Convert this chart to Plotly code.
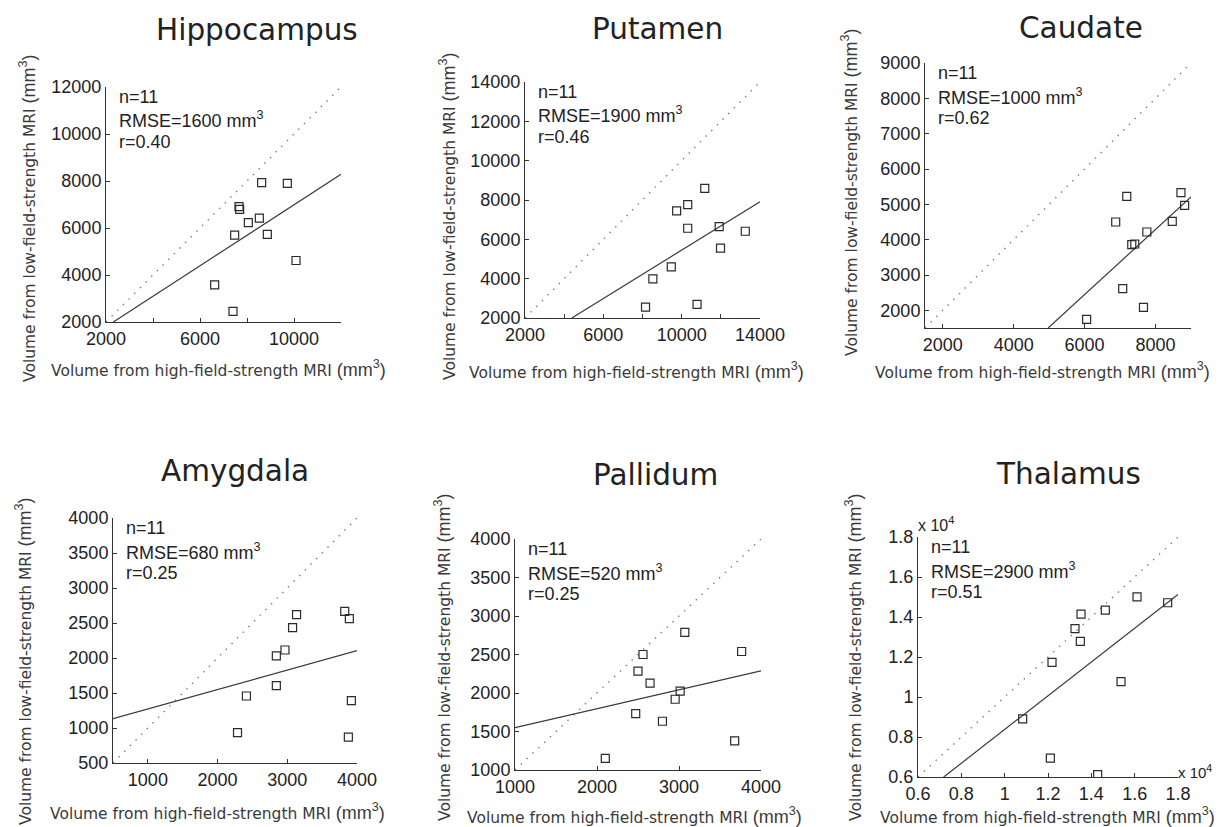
import plotly.graph_objects as go

# The page body adds an 8px margin, so the figure is drawn 8px in from the
# top-left corner of the 1225x827 window; geometry below is in window pixels.
OFF = 8
W, H = 1225 - OFF, 827 - OFF

# ---------------- data ----------------
region_names = ["Hippocampus", "Putamen", "Caudate", "Amygdala", "Pallidum", "Thalamus"]
n_vals = [11, 11, 11, 11, 11, 11]
rmse_vals = [1600, 1900, 1000, 680, 520, 2900]
r_vals = ["0.40", "0.46", "0.62", "0.25", "0.25", "0.51"]

hip_x = [8624, 9716, 7660, 7688, 8057, 8525, 7475, 8865, 10085, 6624, 7404]
hip_y = [7932, 7903, 6908, 6794, 6225, 6424, 5698, 5727, 4617, 3579, 2455]
hip_fit_x = [2312, 12000]
hip_fit_y = [2000, 8287]

put_x = [11179, 9744, 10308, 10308, 11915, 13248, 11983, 9470, 8530, 8154, 10786]
put_y = [8592, 7442, 7763, 6563, 6648, 6411, 5549, 4603, 3994, 2558, 2693]
put_fit_x = [4393, 14000]
put_fit_y = [2000, 7915]

cau_x = [7189, 8717, 8821, 6877, 8472, 7755, 7330, 7415, 7075, 7660, 6057]
cau_y = [5226, 5330, 4972, 4500, 4519, 4217, 3858, 3877, 2613, 2085, 1745]
cau_fit_x = [4972, 9000]
cau_fit_y = [1500, 5208]

amy_x = [3824, 3890, 3133, 3076, 2967, 2843, 2843, 2414, 3919, 2286, 3876]
amy_y = [2667, 2562, 2619, 2433, 2114, 2029, 1605, 1457, 1390, 933, 871]
amy_fit_x = [500, 4000]
amy_fit_y = [1133, 2105]

pal_x = [3071, 3764, 2561, 2500, 2647, 3014, 2953, 2472, 2798, 3679, 2101]
pal_y = [2787, 2539, 2500, 2284, 2128, 2024, 1919, 1733, 1633, 1377, 1152]
pal_fit_x = [1000, 4000]
pal_fit_y = [1551, 2288]

tha_x = [16108, 17523, 14646, 13523, 13246, 13492, 12185, 15369, 10831, 12108, 14292]
tha_y = [15011, 14712, 14346, 14146, 13415, 12783, 11736, 10771, 8909, 6948, 6116]
tha_fit_x = [7185, 18000]
tha_fit_y = [6000, 15127]

# axis ranges and ticks
x_ranges = [[2000, 12000], [2000, 14000], [1500, 9000], [500, 4000], [1000, 4000], [6000, 18000]]
y_ranges = [[2000, 12000], [2000, 14000], [1500, 9000], [500, 4000], [1000, 4000], [6000, 18000]]

x_tickvals = [
    [2000, 4000, 6000, 8000, 10000, 12000],
    [2000, 4000, 6000, 8000, 10000, 12000, 14000],
    [2000, 4000, 6000, 8000],
    [1000, 2000, 3000, 4000],
    [1000, 2000, 3000, 4000],
    [6000, 8000, 10000, 12000, 14000, 16000, 18000],
]
x_ticktext = [
    ["2000", "", "6000", "", "10000", ""],
    ["2000", "", "6000", "", "10000", "", "14000"],
    ["2000", "4000", "6000", "8000"],
    ["1000", "2000", "3000", "4000"],
    ["1000", "2000", "3000", "4000"],
    ["0.6", "0.8", "1", "1.2", "1.4", "1.6", "1.8"],
]
y_tickvals = [
    [2000, 4000, 6000, 8000, 10000, 12000],
    [2000, 4000, 6000, 8000, 10000, 12000, 14000],
    [2000, 3000, 4000, 5000, 6000, 7000, 8000, 9000],
    [500, 1000, 1500, 2000, 2500, 3000, 3500, 4000],
    [1000, 1500, 2000, 2500, 3000, 3500, 4000],
    [6000, 8000, 10000, 12000, 14000, 16000, 18000],
]
y_ticktext = [
    ["2000", "4000", "6000", "8000", "10000", "12000"],
    ["2000", "4000", "6000", "8000", "10000", "12000", "14000"],
    ["2000", "3000", "4000", "5000", "6000", "7000", "8000", "9000"],
    ["500", "1000", "1500", "2000", "2500", "3000", "3500", "4000"],
    ["1000", "1500", "2000", "2500", "3000", "3500", "4000"],
    ["0.6", "0.8", "1", "1.2", "1.4", "1.6", "1.8"],
]

xs = [hip_x, put_x, cau_x, amy_x, pal_x, tha_x]
ys = [hip_y, put_y, cau_y, amy_y, pal_y, tha_y]
fxs = [hip_fit_x, put_fit_x, cau_fit_x, amy_fit_x, pal_fit_x, tha_fit_x]
fys = [hip_fit_y, put_fit_y, cau_fit_y, amy_fit_y, pal_fit_y, tha_fit_y]

# ---------------- layout geometry (window pixels) ----------------
boxes = [(106, 341, 87, 322), (525, 760, 82, 318), (925, 1191, 63, 328),
         (113, 357, 518, 763), (515, 761, 539, 770), (918, 1178, 537, 777)]
title_pos = [(257, 30), (657, 29), (1081, 28), (235, 471), (655, 475), (1068, 474)]
ytitle_pos = [(28, 218), (447, 216), (850, 192), (23, 661), (442, 657), (853, 657)]
xtitle_pos = [(218, 368), (636, 370), (1042, 370), (217, 811), (634, 815), (1047, 815)]


def px(x):
    return (x - OFF) / W


def py(y):
    return 1 - (y - OFF) / H


fig = go.Figure()
annotations = []
layout_axes = {}

DARK = "#2a2a2a"
TICKFONT = dict(family="Liberation Sans, Arial, sans-serif", size=18, color="#222222")
SMALLFONT = "DejaVu Sans, Verdana, sans-serif"
UNIT = '<span style="font-family:Liberation Sans;font-size:18px">(mm<sup>3</sup>)</span>'

for i in range(6):
    k = "" if i == 0 else str(i + 1)
    xa, ya = "x" + k, "y" + k
    l, r, t, b = boxes[i]

    # identity line (dotted)
    fig.add_trace(go.Scatter(
        x=x_ranges[i], y=y_ranges[i], xaxis=xa, yaxis=ya, mode="lines",
        line=dict(color="#7a7a7a", width=1.4, dash="1.4px,6.6px"),
        showlegend=False, hoverinfo="skip"))
    # fitted line
    fig.add_trace(go.Scatter(
        x=fxs[i], y=fys[i], xaxis=xa, yaxis=ya, mode="lines",
        line=dict(color="#3a3a3a", width=1.2),
        showlegend=False, hoverinfo="skip"))
    # points
    fig.add_trace(go.Scatter(
        x=xs[i], y=ys[i], xaxis=xa, yaxis=ya, mode="markers",
        marker=dict(symbol="square-open", size=8, color=DARK, line=dict(width=1.2, color=DARK)),
        showlegend=False, name=region_names[i]))

    common = dict(showgrid=False, zeroline=False, showline=True, linecolor="#333333",
                  linewidth=1, ticks="inside", ticklen=4, tickcolor="#333333",
                  tickfont=TICKFONT, mirror=False, fixedrange=True, automargin=False)
    layout_axes["xaxis" + k] = dict(
        domain=[px(l), px(r)], anchor=ya, range=x_ranges[i],
        tickmode="array", tickvals=x_tickvals[i], ticktext=x_ticktext[i], **common)
    layout_axes["yaxis" + k] = dict(
        domain=[py(b), py(t)], anchor=xa, range=y_ranges[i],
        tickmode="array", tickvals=y_tickvals[i], ticktext=y_ticktext[i], **common)

    # panel title
    annotations.append(dict(
        text=region_names[i], x=px(title_pos[i][0]), y=py(title_pos[i][1]),
        xref="paper", yref="paper", xanchor="center", yanchor="middle", showarrow=False,
        font=dict(family=SMALLFONT, size=29.5, color="#222222")))

    # statistics text
    stats = ["n=%d" % n_vals[i], "RMSE=%d mm<sup>3</sup>" % rmse_vals[i], "r=" + r_vals[i]]
    offs = [10, 33, 55]
    for s, o in zip(stats, offs):
        annotations.append(dict(
            text=s, x=px(l + 11), y=py(t + o), xref="paper", yref="paper",
            xanchor="left", yanchor="middle", showarrow=False,
            font=dict(family="Liberation Sans, Arial, sans-serif", size=18, color="#222222")))

    # axis titles
    annotations.append(dict(
        text="Volume from high-field-strength MRI " + UNIT,
        x=px(xtitle_pos[i][0]), y=py(xtitle_pos[i][1]), xref="paper", yref="paper",
        xanchor="center", yanchor="middle", showarrow=False,
        font=dict(family=SMALLFONT, size=15.5, color="#3a3a3a")))
    annotations.append(dict(
        text="Volume from low-field-strength MRI " + UNIT,
        x=px(ytitle_pos[i][0]), y=py(ytitle_pos[i][1]), xref="paper", yref="paper",
        xanchor="center", yanchor="middle", showarrow=False, textangle=-90,
        font=dict(family=SMALLFONT, size=15.5, color="#3a3a3a")))

# exponent labels for the thalamus panel
annotations.append(dict(
    text="x 10<sup>4</sup>", x=px(916), y=py(524), xref="paper", yref="paper",
    xanchor="left", yanchor="middle", showarrow=False,
    font=dict(family="Liberation Sans, Arial, sans-serif", size=16, color="#222222")))
annotations.append(dict(
    text="x 10<sup>4</sup>", x=px(1214), y=py(771), xref="paper", yref="paper",
    xanchor="right", yanchor="middle", showarrow=False,
    font=dict(family="Liberation Sans, Arial, sans-serif", size=15, color="#222222")))

fig.update_layout(
    width=W, height=H, margin=dict(l=0, r=0, t=0, b=0, pad=0, autoexpand=False),
    paper_bgcolor="white", plot_bgcolor="white",
    showlegend=False, annotations=annotations, **layout_axes)

fig.write_html("out.html")
